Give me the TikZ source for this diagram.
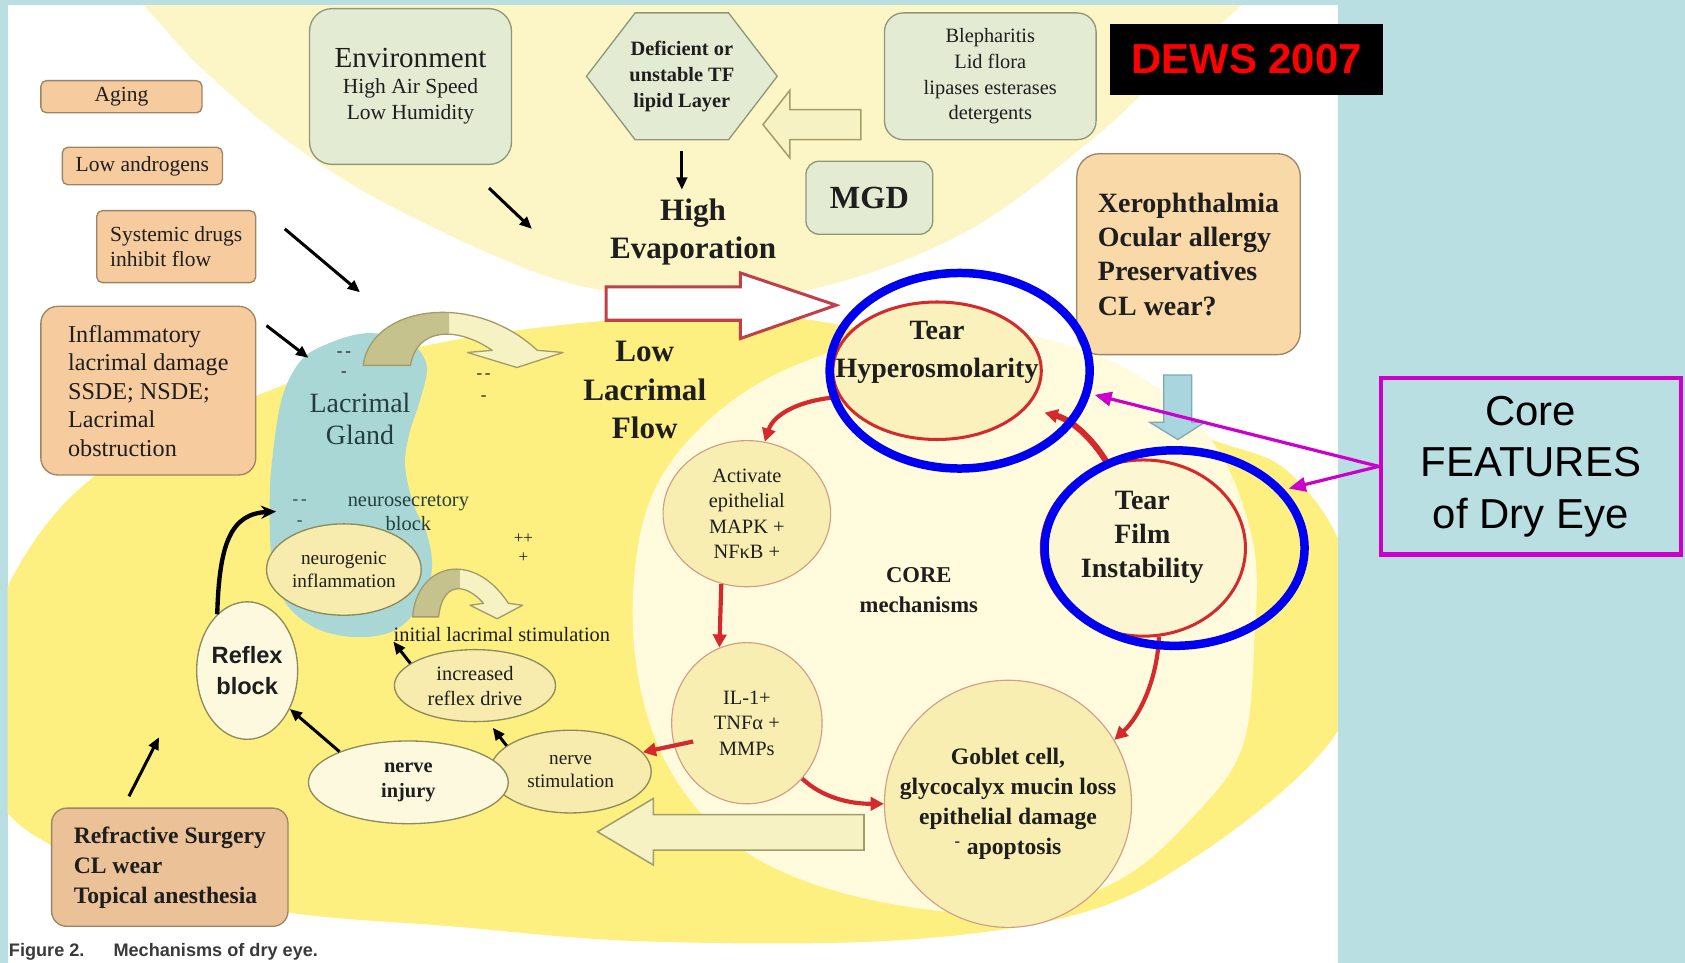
\documentclass[tikz,border=0pt]{standalone}
\usepackage{fontspec}
\setmainfont{Liberation Serif}
\newfontfamily\arialfont{Liberation Sans}
\usepackage{tikz}
\usetikzlibrary{arrows.meta,shapes.geometric,shapes.symbols}

\definecolor{bgblue}{HTML}{BADFE3}
\definecolor{paleyellow}{HTML}{FCF6C6}
\definecolor{deepyellow}{HTML}{FDF081}
\definecolor{corecream}{HTML}{FFFBDC}
\definecolor{glandteal}{HTML}{A9D7D6}
\definecolor{glandtext}{HTML}{243E3D}
\definecolor{tanfill}{HTML}{F6CB9E}
\definecolor{tanlight}{HTML}{FAD9A8}
\definecolor{tandeep}{HTML}{EBC197}
\definecolor{tanline}{HTML}{9C8466}
\definecolor{greenfill}{HTML}{E3EBD3}
\definecolor{greenline}{HTML}{8E977A}
\definecolor{bubblefill}{HTML}{F9EEB2}
\definecolor{bubbleline}{HTML}{CF9E86}
\definecolor{hyperfill}{HTML}{FBF1BC}
\definecolor{filmfill}{HTML}{FDF6D2}
\definecolor{nervefill}{HTML}{F7ECAD}
\definecolor{nerveline}{HTML}{8F8A5A}
\definecolor{paleoval}{HTML}{FDF9DE}
\definecolor{corered}{HTML}{D42A2E}
\definecolor{evapline}{HTML}{C0404A}
\definecolor{ringblue}{HTML}{0000F0}
\definecolor{featmag}{HTML}{CC00CC}
\definecolor{arcdark}{HTML}{C6C28E}
\definecolor{arcpale}{HTML}{F6F2C4}
\definecolor{arcline}{HTML}{A39C6A}
\definecolor{dropblue}{HTML}{A9D5DF}
\definecolor{dropline}{HTML}{7FA9B4}
\definecolor{inkdark}{HTML}{1E1E1E}
\definecolor{captiongray}{HTML}{3A3A3A}

\newcommand{\fsz}[2]{\fontsize{#1}{#2}\selectfont}

\tikzset{
  lbl/.style={inner sep=0pt, align=center, text=inkdark},
  tanbox/.style={draw=tanline, fill=tanfill, line width=0.7pt, rounded corners=3pt,
                 inner sep=0pt, align=center, text=inkdark, font=\fsz{11.4}{13.7}},
  greenbox/.style={draw=greenline, fill=greenfill, line width=0.7pt, rounded corners=10pt,
                   inner sep=0pt, align=center, text=inkdark},
  redoval/.style={ellipse, draw=corered, line width=1.6pt, fill=hyperfill, inner sep=0pt},
  bluering/.style={ellipse, draw=ringblue, line width=4.5pt, inner sep=0pt},
  coreball/.style={ellipse, draw=bubbleline, line width=0.6pt, fill=bubblefill, inner sep=0pt,
                   align=center, text=inkdark, font=\fsz{10.8}{13.4}},
  nerveoval/.style={ellipse, draw=nerveline, line width=0.7pt, fill=nervefill, inner sep=0pt,
                    align=center, text=inkdark, font=\fsz{10.8}{13.2}},
  blk/.style={-{Triangle[length=6.5pt, width=5.5pt]}, line width=1.6pt},
  redarrow/.style={-{Triangle[length=7pt, width=7pt]}, line width=2.2pt, draw=corered},
  featarrow/.style={-{Triangle[length=9pt, width=7.5pt]}, line width=1.7pt, draw=featmag, shorten >=2.3pt},
  blockarrow/.style={draw=arcline, fill=arcpale, line width=0.8pt},
  tearflow/.pic={
    \fill[arcpale] (0,0) .. controls (7,-55) and (102,-70) .. (162,-14) -- (186,-12) -- (143,2)
      -- (97,-12) -- (120,-14) .. controls (88,-36) and (50,-36) .. (44,0) -- cycle;
    \begin{scope}
      \clip (-10,-80) rectangle (80,10);
      \fill[arcdark] (0,0) .. controls (7,-55) and (102,-70) .. (162,-14) -- (120,-14)
        .. controls (88,-36) and (50,-36) .. (44,0) -- cycle;
    \end{scope}
    \draw[arcline, line width=0.7pt, line join=round] (0,0) .. controls (7,-55) and (102,-70) .. (162,-14)
      -- (186,-12) -- (143,2) -- (97,-12) -- (120,-14) .. controls (88,-36) and (50,-36) .. (44,0) -- cycle;
  }
}

\begin{document}
\begin{tikzpicture}[x=0.02cm, y=-0.02cm]
  \useasboundingbox (0,0) rectangle (1568,896);
  \fill[bgblue] (0,0) rectangle (1568,896);
  \fill[white] (7,5) rectangle (1245,896);

  % tinted zones
  \begin{scope}
    \clip (7,5) rectangle (1245,896);
    \fill[paleyellow] plot[smooth cycle, tension=0.6] coordinates {(60,-60) (133,5) (186,62) (266,130)
      (366,193) (521,261) (640,275) (760,268) (900,215) (1023,124) (1095,55) (1160,0) (1200,-60) (600,-120)};
    \fill[deepyellow] plot[smooth cycle, tension=0.6] coordinates {(-30,660) (10,540) (83,447) (200,385)
      (330,337) (500,305) (700,293) (850,318) (1000,368) (1130,410) (1200,440) (1252,520) (1258,640)
      (1221,710) (1113,797) (1005,850) (835,875) (600,876) (420,862) (260,848) (120,815) (10,760)};
    \fill[corecream] plot[smooth cycle, tension=0.6] coordinates {(590,600) (600,480) (650,400) (740,340)
      (880,305) (1020,330) (1120,400) (1165,500) (1167,600) (1156,695) (1113,757) (1041,819) (940,850)
      (800,835) (690,790) (620,710)};
  \end{scope}

  % lacrimal gland
  \fill[glandteal] plot[smooth cycle, tension=0.6] coordinates {(300,322) (341,310) (380,318) (397,340)
    (391,372) (381,403) (377,434) (385,470) (397,496) (402,527) (394,558) (370,585) (335,593) (295,585)
    (265,560) (253,520) (251,470) (253,430) (262,372) (278,338)};
  \pic (glandarc) at (338,340) {tearflow};
  \pic[xscale=0.55, yscale=0.9] (stimarc) at (384,574) {tearflow};

  % block arrows
  \draw[blockarrow] (801,102) -- (735,102) -- (735,84) -- (710,116) -- (735,147) -- (735,130) -- (801,130) -- cycle;
  \draw[draw=evapline, fill=white, line width=1.6pt] (564,267) -- (689,267) -- (689,254) -- (778,284)
    -- (689,315) -- (689,298) -- (564,298) -- cycle;
  \draw[draw=dropline, fill=dropblue, line width=0.7pt] (1083,349) -- (1109,349) -- (1109,393) -- (1121,393)
    -- (1096,409) -- (1070,393) -- (1083,393) -- cycle;
  \draw[blockarrow] (804,758) -- (608,758) -- (608,743) -- (556,774) -- (608,805) -- (608,791) -- (804,791) -- cycle;

  % risk factor boxes
  \node[tanbox, minimum width=3cm, minimum height=0.6cm] (aging) at (113,90) {Aging};
  \node[tanbox, minimum width=2.98cm, minimum height=0.7cm] (andro) at (132.5,154.5) {Low androgens};
  \node[tanbox, minimum width=2.96cm, minimum height=1.34cm, align=left] (sysdrug) at (164,229.5) {Systemic drugs\\inhibit flow};
  \node[tanbox, minimum width=4cm, minimum height=3.14cm, rounded corners=9pt, align=left,
        font=\fsz{12.8}{15.1}] (inflam) at (138,363.5) {Inflammatory\\lacrimal damage\\SSDE; NSDE;\\Lacrimal\\obstruction};
  \node[greenbox, minimum width=3.76cm, minimum height=2.9cm, rounded corners=12pt, font=\fsz{11.4}{13.7}]
        (env) at (382,80.5) {{\fsz{15.4}{17}Environment}\\High Air Speed\\Low Humidity};
  \node[signal, signal to=west and east, signal pointer angle=105, draw=greenline, fill=greenfill,
        line width=0.7pt, inner sep=0pt, inner xsep=-3pt, align=center, text=inkdark, font=\fsz{10.8}{13.9}\bfseries,
        minimum width=3.5cm, minimum height=2.36cm] (tflipid) at (634.5,71) {Deficient or\\unstable TF\\lipid Layer};
  \node[greenbox, minimum width=3.94cm, minimum height=2.36cm, font=\fsz{10.8}{13.7}]
        (bleph) at (921.5,71) {Blepharitis\\Lid flora\\lipases esterases\\detergents};
  \node[greenbox, minimum width=2.36cm, minimum height=1.36cm, rounded corners=7pt, font=\fsz{17.1}{19}\bfseries]
        (mgd) at (809,184) {MGD};
  \node[tanbox, fill=tanlight, minimum width=4.16cm, minimum height=3.74cm, rounded corners=12pt, align=left,
        font=\fsz{14.8}{18.2}\bfseries] (xero) at (1106,236.5) {Xerophthalmia\\Ocular allergy\\Preservatives\\CL wear?};
  \node[tanbox, fill=tandeep, minimum width=4.4cm, minimum height=2.2cm, rounded corners=8pt, align=left,
        font=\fsz{12.5}{15.9}\bfseries] (refr) at (158,807) {Refractive Surgery\\CL wear\\Topical anesthesia};
  \node[fill=black, minimum width=5.08cm, minimum height=1.32cm, inner sep=0pt, text=red,
        font=\arialfont\bfseries\fsz{22.2}{24}] (dews) at (1160,55) {DEWS 2007};

  % free labels
  \node[lbl, font=\fsz{16.5}{20.5}\bfseries] (evap) at (645,216) {High\\Evaporation};
  \node[lbl, font=\fsz{16.5}{20.5}\bfseries] (lowflow) at (600,363) {Low\\Lacrimal\\Flow};
  \node[lbl, font=\fsz{14.8}{17.1}, text=glandtext] (gland) at (335,390) {Lacrimal\\Gland};
  \node[lbl, font=\fsz{10.8}{12.5}, text=glandtext] (nsblock) at (380,477) {neurosecretory\\block};
  \node[lbl, font=\fsz{12}{15.9}\bfseries] (coremech) at (855,549) {CORE\\mechanisms};
  \node[lbl, font=\fsz{10.8}{12}] (initstim) at (467,590) {initial lacrimal stimulation};
  \node[lbl, font=\fsz{9}{10.8}] (dasha) at (320,339) {-\,-\\-};
  \node[lbl, font=\fsz{9}{11.5}] (dashb) at (450,360) {-\,-\\-};
  \node[lbl, font=\fsz{9}{10.8}, text=glandtext] (dashc) at (279,477) {-\,-\\-};
  \node[lbl, font=\fsz{9}{9.7}] (plusd) at (487,510) {++\\+};
  \node[lbl, anchor=west, font=\arialfont\bfseries\fsz{9.6}{11}, text=captiongray] (caption) at (8,886)
        {Figure 2.\hspace{1.6em}Mechanisms of dry eye.};

  % core cycle
  \node[redoval, minimum width=3.88cm, minimum height=2.56cm] (hyper) at (872,345) {};
  \node[lbl, font=\fsz{14.8}{19.9}\bfseries] (hypertext) at (872,328) {Tear\\Hyperosmolarity};
  \node[redoval, fill=filmfill, minimum width=3.8cm, minimum height=3.28cm] (film) at (1064,510) {};
  \node[lbl, font=\fsz{14.8}{18.2}\bfseries] (filmtext) at (1063,500) {Tear\\Film\\Instability};
  \node[coreball, minimum width=3.12cm, minimum height=2.72cm] (act) at (695,478) {Activate\\epithelial\\MAPK +\\NFκB +};
  \node[coreball, minimum width=2.8cm, minimum height=3cm] (il) at (695,673) {IL-1+\\TNFα +\\MMPs};
  \node[coreball, circle, minimum size=4.6cm, font=\fsz{12.5}{15.9}\bfseries] (goblet) at (938,748)
        {Goblet cell,\\glycocalyx mucin loss\\epithelial damage\\\textsuperscript{-} apoptosis};

  % neural loop
  \node[nerveoval, minimum width=2.88cm, minimum height=1.7cm, font=\fsz{10.2}{12.5}] (neuro) at (320,530) {neurogenic\\inflammation};
  \node[nerveoval, minimum width=3cm, minimum height=1.34cm] (incr) at (442,638) {increased\\reflex drive};
  \node[nerveoval, minimum width=3cm, minimum height=1.54cm, font=\fsz{10.2}{12.5}] (nstim) at (531,718) {nerve\\stimulation};
  \node[nerveoval, fill=paleoval, minimum width=3.72cm, minimum height=1.54cm, font=\fsz{10.8}{13.7}\bfseries]
        (ninj) at (380,728) {nerve\\injury};
  \node[nerveoval, fill=paleoval, minimum width=1.88cm, minimum height=2.56cm, font=\arialfont\bfseries\fsz{12.5}{15.9}]
        (rblock) at (230,624) {Reflex\\block};

  % black connectors
  \coordinate (envfrom) at (455,175);
  \coordinate (envto) at (495,213);
  \coordinate (sysfrom) at (265,213);
  \coordinate (systo) at (335,272);
  \coordinate (inffrom) at (248,303);
  \coordinate (infto) at (287,333);
  \coordinate (refrfrom) at (120,741);
  \coordinate (refrto) at (148,686);
  \coordinate (glandin) at (257,476);
  \draw[blk] (envfrom) -- (envto);
  \draw[blk] (sysfrom) -- (systo);
  \draw[blk] (inffrom) -- (infto);
  \draw[blk, shorten <=5.7pt, shorten >=4.5pt] (tflipid.south) -- (tflipid.south |- evap.north);
  \draw[blk] (refrfrom) -- (refrto);
  \draw[blk] (ninj.156) -- (rblock.-42);
  \draw[blk, shorten >=4pt] (nstim.158) -- (incr.-70);
  \draw[blk] (incr.161) -- (initstim.south west);
  \draw[line width=2.3pt, -{Stealth[length=8pt, width=7pt]}] (rblock.118) .. controls (204,505) and (215,478) .. (glandin);

  % red connectors
  \coordinate (ilout) at (645,690);
  \coordinate (hyperin) at (972,384);
  \draw[redarrow] (hyper.195) .. controls (745,372) and (720,385) .. (act.76);
  \draw[redarrow] (act.250) -- (il.110);
  \draw[redarrow] (ilout) -- (nstim.15);
  \draw[redarrow] (il.-45) .. controls (765,742) and (790,748) .. (goblet.180);
  \draw[redarrow] (film.280) .. controls (1077,630) and (1062,665) .. (goblet.31);
  \draw[redarrow, line width=3.2pt] (film.113) .. controls (1015,405) and (995,390) .. (hyperin);

  % highlight of the core features
  \node[bluering, minimum width=4.84cm, minimum height=3.64cm] (hyperring) at (893,345) {};
  \node[bluering, minimum width=4.84cm, minimum height=3.64cm] (filmring) at (1093,510) {};
  \node[draw=featmag, line width=2.3pt, minimum width=5.58cm, minimum height=3.28cm, inner sep=0pt,
        align=center, font=\arialfont\fsz{22.2}{27.3}] (core) at (1424.5,434) {Core\\FEATURES\\of Dry Eye};
  \draw[featarrow] (core.west) -- (hyperring.-10);
  \draw[featarrow] (core.west) -- (filmring.28);
\end{tikzpicture}
\end{document}
